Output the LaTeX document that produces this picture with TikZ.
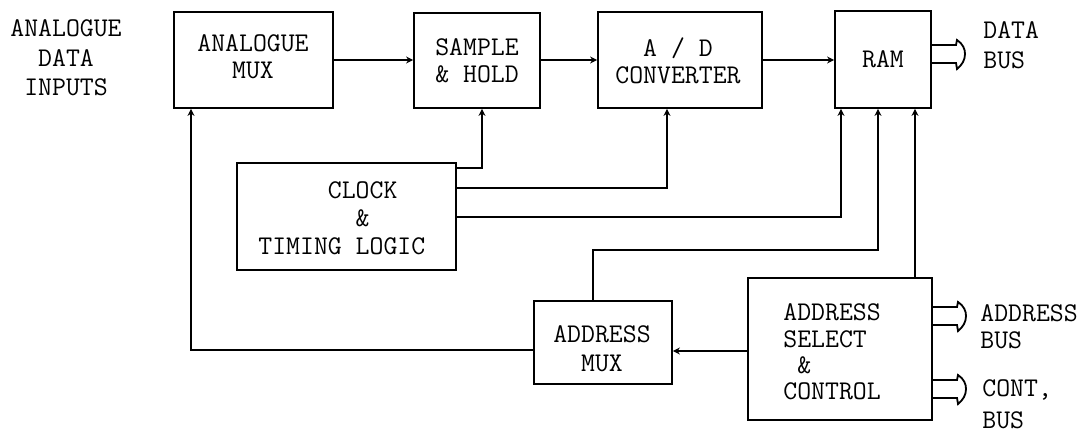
\documentclass[tikz,border=0pt]{standalone}
\usepackage{fontspec}
\usetikzlibrary{fit,arrows.meta}
\begin{document}
\begin{tikzpicture}[x=0.5pt,y=-0.5pt,
  box/.style={draw, line width=0.9pt, inner sep=0pt},
  lbl/.style={font=\ttfamily\fontsize{13.5}{#1}\selectfont, inner sep=0pt},
  lbl/.default=13.5,
  wire/.style={line width=0.8pt, -{Stealth[length=3.5pt,width=3.5pt]}},
  bus/.style={line width=0.9pt},
  pics/busarr/.style={code={
    \draw[bus] (0,-9) -- (25,-9) -- (26,-14) .. controls (32,-10) and (34,-5) .. (34,0)
      .. controls (34,6) and (31,11) .. (26,15) -- (25,9) -- (0,9);}}
]
\useasboundingbox (0,0) rectangle (1092,432);

% boxes
\node[box, fit={(174,12)(333,108)}] (amux) {};
\node[box, fit={(414,13)(540,108)}] (sh) {};
\node[box, fit={(598,12)(762,108)}] (adc) {};
\node[box, fit={(835,11)(931,108)}] (ram) {};
\node[box, fit={(237,163)(456,270)}] (clk) {};
\node[box, fit={(534,301)(672,384)}] (amx) {};
\node[box, fit={(748,278)(932,420)}] (asc) {};

% texts
\node[lbl=14.75, align=center] (tin) at (66,58) {ANALOGUE\\DATA\\INPUTS};
\node[lbl=13.5, align=center] (tamux) at (253,57) {ANALOGUE\\MUX};
\node[lbl=13.5, align=center] (tsh) at (477,61) {SAMPLE\\\& HOLD};
\node[lbl=13.5, align=center] (tadc) at (678,61) {A / D\\CONVERTER};
\node[lbl] (tram) at (883,59) {RAM};
\node[lbl=15, align=left, anchor=west] (tdb) at (983,45) {DATA\\BUS};
\node[lbl=14, align=left, anchor=west] (tclk) at (258,218) {\phantom{XXXXX}CLOCK\\\phantom{XXXXXXX}\&\\TIMING LOGIC};
\node[lbl=14.5, align=center] (tamx) at (602,349) {ADDRESS\\MUX};
\node[lbl=13.2, align=left, anchor=west] (tasc) at (783,352) {ADDRESS\\SELECT\\\phantom{X}\&\\CONTROL};
\node[lbl=13.5, align=left, anchor=west] (tab) at (980,327) {ADDRESS\\BUS};
\node[lbl=16, align=left, anchor=west] (tcb) at (982,404) {CONT,\\BUS};

% bend points
\coordinate (k1) at (482,168);
\coordinate (k2) at (667,188);
\coordinate (k3) at (841,217);
\coordinate (k4) at (593,250);
\coordinate (k5) at (878,250);
\coordinate (k6) at (915,278);
\coordinate (k7) at (700,351);
\coordinate (k8) at (191,350);

% main chain
\draw[wire] (amux.east) -- (sh.west |- amux.east);
\draw[wire] (sh.east |- amux.east) -- (adc.west |- amux.east);
\draw[wire] (adc.east) -- (ram.west |- adc.east);

% clock lines
\draw[wire] (clk.east |- k1) -- (k1) -- (k1 |- sh.south);
\draw[wire] (clk.east |- k2) -- (k2) -- (k2 |- adc.south);
\draw[wire] (clk.east |- k3) -- (k3) -- (k3 |- ram.south);

% address lines
\draw[wire] (k4 |- amx.north) -- (k4) -- (k5) -- (k5 |- ram.south);
\draw[wire] (k6 |- asc.north) -- (k6 |- ram.south);
\draw[wire] (asc.west |- k7) -- (amx.east |- k7);
\draw[wire] (amx.west |- k8) -- (k8) -- (k8 |- amux.south);

% bus arrows
\pic at (931,54) {busarr};
\pic at (932,316) {busarr};
\pic at (932,389) {busarr};
\end{tikzpicture}
\end{document}
